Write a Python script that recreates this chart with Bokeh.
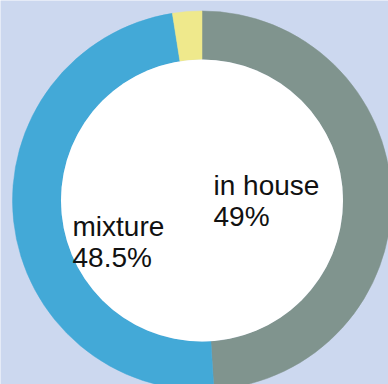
import math
from bokeh.plotting import figure
from bokeh.models import ColumnDataSource
from bokeh.core.properties import value
from bokeh.embed import file_html
from bokeh.resources import INLINE

# data
categories = ["in house", "mixture", "other"]
values = [49, 48.5, 2.5]
colors = ["#80948e", "#43a9d7", "#efe98c"]

W, H = 388, 384
p = figure(width=W, height=H, x_range=(0, W), y_range=(0, H),
           output_backend="svg", toolbar_location=None, min_border=0)
p.axis.visible = False
p.grid.visible = False
p.outline_line_color = None
p.background_fill_color = "#ccd8ef"
p.border_fill_color = "#ccd8ef"

cx, cy = 201.5, H - 200
r_in, r_out = 141, 189.5

total = sum(values)
starts, ends = [], []
acc = 0.0
for v in values:
    a0 = math.pi / 2 - 2 * math.pi * acc / total
    acc += v
    a1 = math.pi / 2 - 2 * math.pi * acc / total
    starts.append(a0)
    ends.append(a1)

src = ColumnDataSource(dict(start=starts, end=ends, color=colors))
p.annular_wedge(x=cx, y=cy, inner_radius=r_in, outer_radius=r_out,
                start_angle="start", end_angle="end", direction="clock",
                fill_color="color", line_color="color", line_width=0.5,
                source=src)
p.circle(x=cx, y=cy, radius=r_in, fill_color="white", line_color=None)

# labels (first two categories), positions as offsets from center
offsets = [(11.5, 15), (-129.5, -26)]
lx, ly1, ly2, t1, t2 = [], [], [], [], []
for (dx, dy), c, v in zip(offsets, categories, values):
    lx.append(cx + dx)
    ly1.append(cy + dy)
    ly2.append(cy + dy - 30.5)
    t1.append(c)
    t2.append(f"{v:g}%")

p.text(x=lx, y=ly1, text=t1, text_font=value("Liberation Sans"),
       text_font_size="28px", text_color="#111111", text_baseline="alphabetic")
p.text(x=lx, y=ly2, text=t2, text_font=value("Liberation Sans"),
       text_font_size="28px", text_color="#111111", text_baseline="alphabetic")

open("out.html", "w").write(file_html(p, INLINE))
